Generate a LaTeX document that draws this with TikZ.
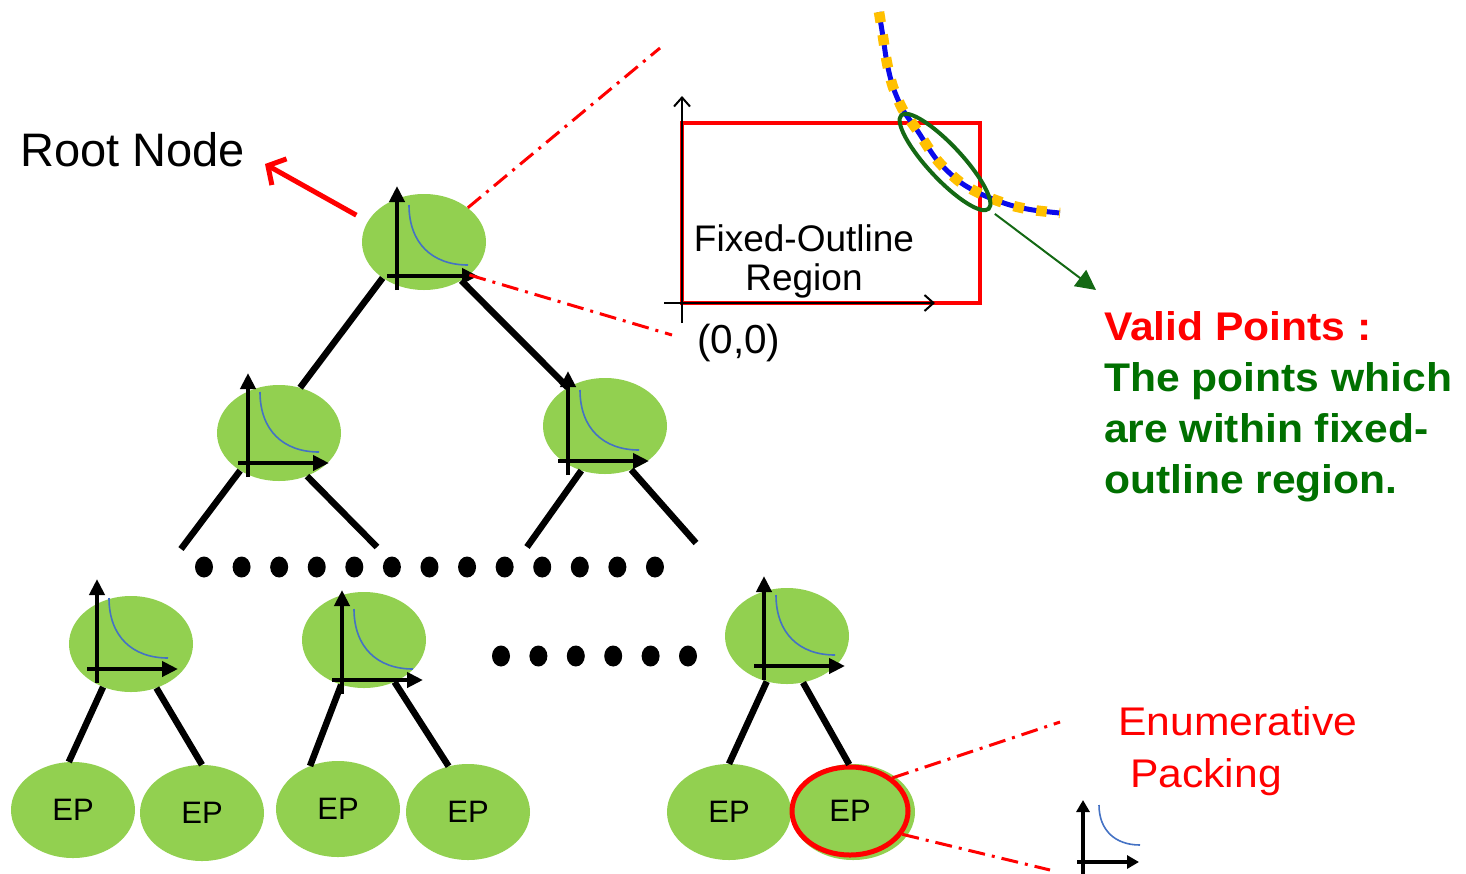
\documentclass[tikz,border=0pt]{standalone}
\usepackage{fontspec}
\setmainfont{Liberation Sans}
\newfontfamily\widesans[FakeStretch=1.065]{Liberation Sans}
\usetikzlibrary{shapes.geometric,arrows.meta}

\definecolor{leaf}{RGB}{146,208,80}
\definecolor{frontblue}{RGB}{68,114,196}
\definecolor{pure}{RGB}{255,0,0}
\definecolor{okgreen}{RGB}{0,112,0}
\definecolor{ringgreen}{RGB}{20,105,20}
\definecolor{curveblue}{RGB}{10,10,235}
\definecolor{curveyellow}{RGB}{255,192,0}

\tikzset{
  tnode/.style={ellipse, fill=leaf, minimum width=124, minimum height=96, inner sep=0pt},
  epnode/.style={tnode, font=\fontsize{31}{36}\selectfont},
  branch/.style={line width=6.5, line cap=butt},
  axis/.style={line width=4.5, -{Triangle[length=16,width=15]}},
  pareto/.style={frontblue, line width=1.6},
  dashdot/.style={pure, line width=3, dash pattern=on 17 off 7 on 3 off 7},
  blackdot/.style={fill=black, ellipse, minimum width=18, minimum height=21, inner sep=0pt},
  thinaxis/.style={line width=2, -{Straight Barb[length=9,width=16]}},
  sidetext/.style={anchor=base west, inner sep=0pt, font=\widesans\fontsize{40}{46}\selectfont},
  sidebold/.style={anchor=base west, inner sep=0pt, font=\widesans\bfseries\fontsize{40}{46}\selectfont},
  frontplot/.pic={
    \draw[axis] (0,14) -- (0,-90);
    \draw[axis] (-10,0) -- (81,0);
    \draw[pareto] (12,-71) .. controls (12,-33) and (35,-11) .. (71,-11);
  }
}

\begin{document}
\begin{tikzpicture}[x=1pt,y=-1pt]
\useasboundingbox (0,0) rectangle (1466,873);

% ---- tree nodes ----
\node[tnode] (root) at (424,242) {};
\node[tnode] (la)   at (279,433) {};
\node[tnode] (lb)   at (605,426) {};
\node[tnode] (ma)   at (131,644) {};
\node[tnode] (mb)   at (364,640) {};
\node[tnode] (mc)   at (787,636) {};

\node[epnode] (ep1) at (73,810)  {EP};
\node[epnode] (ep2) at (202,813) {EP};
\node[epnode] (ep3) at (338,809) {EP};
\node[epnode] (ep4) at (468,812) {EP};
\node[epnode] (ep5) at (729,812) {EP};
\node[epnode] (ep6) at (853,812) {};
\node[ellipse, draw=pure, line width=5, minimum width=116, minimum height=88, inner sep=0pt,
      font=\fontsize{31}{36}\selectfont] (ring) at (850,811) {EP};

% ---- small plots inside the nodes ----
\pic at (397,276) {frontplot};
\pic at (248,463) {frontplot};
\pic at (568,461) {frontplot};
\pic at (97,669)  {frontplot};
\pic at (342,680) {frontplot};
\pic at (764,666) {frontplot};

% ---- free ends of the open branches ----
\coordinate (lae1) at (181,549);
\coordinate (lae2) at (377,547);
\coordinate (lbe1) at (527,547);
\coordinate (lbe2) at (696,543);

% ---- branches ----
\draw[branch] (root.221) -- (la.65);
\draw[branch] (root.314) -- (lb.134);
\draw[branch] (la.224) -- (lae1);
\draw[branch] (la.303) -- (lae2);
\draw[branch] (lb.242) -- (lbe1);
\draw[branch] (lb.301) -- (lbe2);
\draw[branch] (ma.237) -- (ep1.95);
\draw[branch] (ma.300) -- (ep2.90);
\draw[branch] (mb.243) -- (ep3.123);
\draw[branch] (mb.306) -- (ep4.113);
\draw[branch] (mc.246) -- (ep5.90);
\draw[branch] (mc.289) -- (ring.91);

% ---- ellipsis dots ----
\foreach \i in {0,...,12} {
  \node[blackdot] (rowa\i) at ({204+37.58*\i},567) {};
}
\foreach \i in {0,...,5} {
  \node[blackdot] (rowb\i) at ({501+37.4*\i},656) {};
}

% ---- root label and pointer ----
\node[anchor=base west, inner sep=0pt, font=\fontsize{47}{56}\selectfont] (rootlabel) at (20,166) {Root Node};
\coordinate (rootptr) at (265,164);
\draw[pure, line width=5, shorten <=13, -{Straight Barb[length=13,width=30,line width=5]}] (root.160) -- (rootptr);

% ---- zoom lines from the root ----
\coordinate (zoomA) at (660,48);
\coordinate (zoomB) at (672,335);
\draw[dashdot] (root.38) -- (zoomA);
\draw[dashdot] (root.324) -- (zoomB);

% ---- fixed-outline region ----
\node[draw=pure, line width=4, minimum width=298, minimum height=180, inner sep=0pt] (region) at (831,213) {};
\coordinate (yorig) at (682,323);
\coordinate (ytip)  at (682,96);
\coordinate (xorig) at (664,303);
\coordinate (xtip)  at (935,303);
\draw[thinaxis] (yorig) -- (ytip);
\draw[thinaxis] (xorig) -- (xtip);
\node[anchor=base, inner sep=0pt, font=\fontsize{37}{42}\selectfont] (fol1) at (804,251) {Fixed-Outline};
\node[anchor=base, inner sep=0pt, font=\fontsize{37}{42}\selectfont] (fol2) at (804,290) {Region};
\node[anchor=base west, inner sep=0pt, font=\fontsize{40.5}{46}\selectfont] (origin) at (697,353) {(0,0)};

% ---- candidate curve ----
\draw[curveblue, line width=5] plot[smooth] coordinates
  {(879,12) (883,37) (887,63) (893,87) (903,110) (917,130) (937,160) (960,182) (983,195) (1010,205) (1033,210) (1060,213)};
\draw[curveyellow, line width=10.5, dash pattern=on 10.5 off 12.5] plot[smooth] coordinates
  {(879,12) (883,37) (887,63) (893,87) (903,110) (917,130) (937,160) (960,182) (983,195) (1010,205) (1033,210) (1060,213)};

% ---- valid points ----
\node[draw=ringgreen, line width=4, ellipse, rotate=-47, minimum width=128, minimum height=34, inner sep=0pt] (valid) at (945,162) {};
\coordinate (validptr) at (1096,290);
\draw[ringgreen, line width=2, shorten <=6, -{Triangle[length=20,width=20]}] (valid.east) -- (validptr);

\node[sidebold, text=pure] (vp1) at (1104,340) {Valid Points :};
\node[sidebold, text=okgreen] (vp2) at (1104,391) {The points which};
\node[sidebold, text=okgreen] (vp3) at (1104,442) {are within fixed-};
\node[sidebold, text=okgreen] (vp4) at (1104,493) {outline region.};

% ---- enumerative packing ----
\coordinate (epA) at (1060,722);
\coordinate (epB) at (1050,870);
\draw[dashdot] (ring.38) -- (epA);
\draw[dashdot] (ring.336) -- (epB);
\node[sidetext, text=pure] (en1) at (1118,735) {Enumerative};
\node[sidetext, text=pure] (en2) at (1130,787) {Packing};

% ---- small plot below ----
\coordinate (spy0) at (1083,875);
\coordinate (spy1) at (1083,800);
\coordinate (spx0) at (1077,862);
\coordinate (spx1) at (1139,862);
\draw[line width=4, -{Triangle[length=12,width=13]}] (spy0) -- (spy1);
\draw[line width=4, -{Triangle[length=12,width=13]}] (spx0) -- (spx1);
\draw[pareto] (1099,805) .. controls (1099,830) and (1115,845) .. (1140,845);
\end{tikzpicture}
\end{document}
